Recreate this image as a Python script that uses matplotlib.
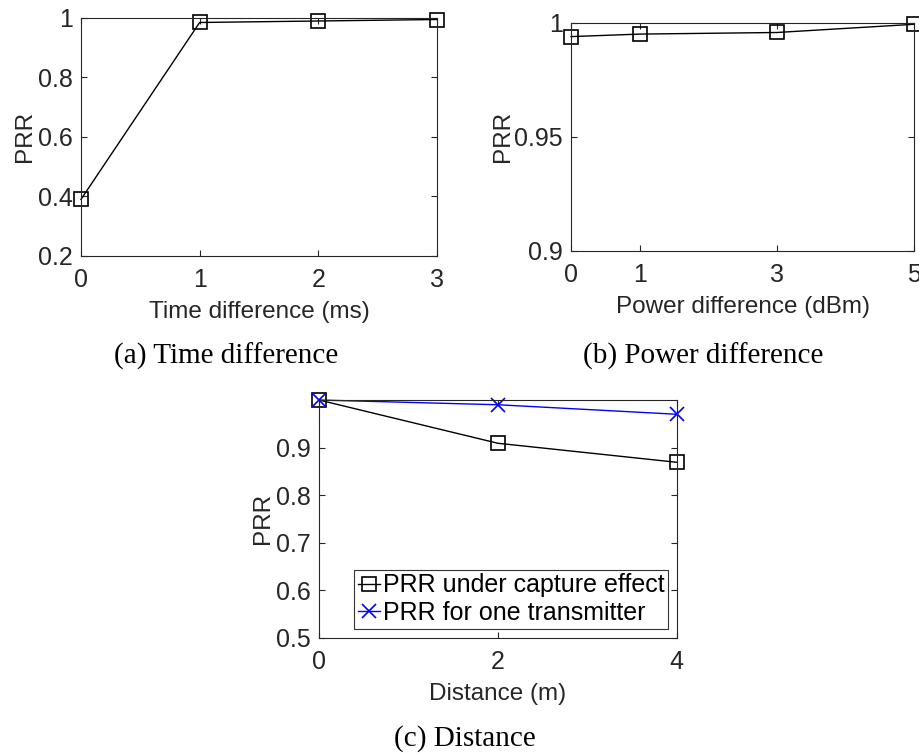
import matplotlib
matplotlib.use("Agg")
import matplotlib.pyplot as plt

# ==========================
# Data
# ==========================

time_diff = [0, 1, 2, 3]
prr_time = [0.39, 0.984, 0.989, 0.994]

power_diff = [0, 1, 3, 5]
prr_power = [0.9939, 0.995, 0.9957, 0.9993]

distance = [0, 2, 4]
prr_capture = [1.0, 0.909, 0.869]
prr_single = [1.0, 0.990, 0.970]

legend_labels = ["PRR under capture effect", "PRR for one transmitter"]
captions = ["(a) Time difference", "(b) Power difference", "(c) Distance"]

plt.rcParams["font.family"] = ["Liberation Sans", "DejaVu Sans"]

AX_COLOR = "#262626"
TICK_SIZE = 18
LABEL_SIZE = 17.5
CAPTION_SIZE = 21


def style_axes(ax):
    for side in ax.spines.values():
        side.set_color(AX_COLOR)
        side.set_linewidth(0.8)
    ax.tick_params(direction="in", top=True, right=True, colors=AX_COLOR,
                   labelsize=TICK_SIZE, length=4, width=0.8)
    ax.tick_params(axis="x", pad=9)
    ax.tick_params(axis="y", pad=6)


fig = plt.figure(figsize=(9.2, 7.54), dpi=100)

# --------------------------
# (a) Time difference
# --------------------------
ax1 = fig.add_axes([0.088, 0.6605, 0.387, 0.316])
ax1.plot(time_diff, prr_time, color="black", linewidth=1.0, marker="s",
         markersize=10, markerfacecolor="none", markeredgecolor="black",
         markeredgewidth=1.2, clip_on=False)
ax1.set_xlim(0, 3)
ax1.set_ylim(0.2, 1)
ax1.set_xticks([0, 1, 2, 3])
ax1.set_yticks([0.2, 0.4, 0.6, 0.8, 1.0])
ax1.set_yticklabels(["0.2", "0.4", "0.6", "0.8", "1"])
ax1.set_xlabel("Time difference (ms)", fontsize=LABEL_SIZE, color=AX_COLOR, labelpad=6)
ax1.set_ylabel("PRR", fontsize=LABEL_SIZE, color=AX_COLOR, labelpad=1)
style_axes(ax1)

# --------------------------
# (b) Power difference
# --------------------------
ax2 = fig.add_axes([0.6207, 0.6675, 0.3728, 0.3024])
ax2.plot(power_diff, prr_power, color="black", linewidth=1.0, marker="s",
         markersize=10, markerfacecolor="none", markeredgecolor="black",
         markeredgewidth=1.2, clip_on=False)
ax2.set_xlim(0, 5)
ax2.set_ylim(0.9, 1)
ax2.set_xticks(power_diff)
ax2.set_yticks([0.9, 0.95, 1.0])
ax2.set_yticklabels(["0.9", "0.95", "1"])
ax2.set_xlabel("Power difference (dBm)", fontsize=LABEL_SIZE, color=AX_COLOR, labelpad=6)
ax2.set_ylabel("PRR", fontsize=LABEL_SIZE, color=AX_COLOR, labelpad=0)
style_axes(ax2)

# --------------------------
# (c) Distance
# --------------------------
ax3 = fig.add_axes([0.3467, 0.1542, 0.389, 0.3153])
ax3.plot(distance, prr_capture, color="black", linewidth=1.0, marker="s",
         markersize=10, markerfacecolor="none", markeredgecolor="black",
         markeredgewidth=1.2, clip_on=False, label=legend_labels[0])
ax3.plot(distance, prr_single, color="blue", linewidth=1.0, marker="x",
         markersize=10, markeredgewidth=1.2, clip_on=False, label=legend_labels[1])
ax3.set_xlim(0, 4)
ax3.set_ylim(0.5, 1)
ax3.set_xticks(distance)
ax3.set_yticks([0.5, 0.6, 0.7, 0.8, 0.9])
ax3.set_xlabel("Distance (m)", fontsize=LABEL_SIZE, color=AX_COLOR, labelpad=6)
ax3.set_ylabel("PRR", fontsize=LABEL_SIZE, color=AX_COLOR, labelpad=1)
style_axes(ax3)
leg = ax3.legend(loc="lower right", fontsize=18, frameon=True, fancybox=False,
                 handlelength=0.9, handletextpad=0.1, borderpad=0.15,
                 labelspacing=0.15, borderaxespad=0.35)
leg.get_frame().set_edgecolor("black")
leg.get_frame().set_linewidth(0.8)

# --------------------------
# Captions
# --------------------------
fig.text(0.2457, 0.527, captions[0], ha="center", va="center",
         fontsize=CAPTION_SIZE, family="Liberation Serif")
fig.text(0.764, 0.527, captions[1], ha="center", va="center",
         fontsize=CAPTION_SIZE, family="Liberation Serif")
fig.text(0.505, 0.021, captions[2], ha="center", va="center",
         fontsize=CAPTION_SIZE, family="Liberation Serif")

fig.savefig("out.png", dpi=100)
print("Figure Saved")
